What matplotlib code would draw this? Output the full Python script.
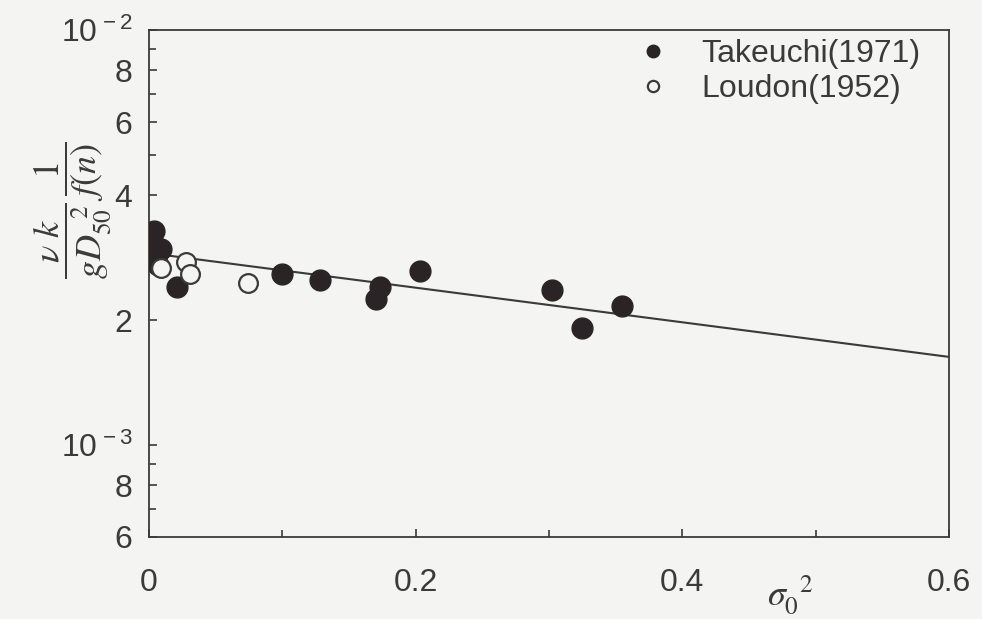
import matplotlib.pyplot as plt
from matplotlib.ticker import FixedLocator, NullFormatter

# data
takeuchi_x = [0.004, 0.002, 0.009, 0.005, 0.007, 0.021, 0.100, 0.128, 0.173, 0.170, 0.203, 0.302, 0.325, 0.355]
takeuchi_y = [3.28e-3, 3.12e-3, 2.97e-3, 2.82e-3, 2.72e-3, 2.40e-3, 2.58e-3, 2.50e-3, 2.40e-3, 2.25e-3, 2.62e-3, 2.36e-3, 1.91e-3, 2.16e-3]

loudon_x = [0.009, 0.028, 0.031, 0.074]
loudon_y = [2.67e-3, 2.76e-3, 2.58e-3, 2.46e-3]

fit_x = [0.0, 0.6]
fit_y = [2.90e-3, 1.63e-3]

y_major = [6e-4, 8e-4, 1e-3, 2e-3, 4e-3, 6e-3, 8e-3, 1e-2]
y_labels = ["6", "8", r"$\mathregular{10^{\,-3}}$", "2", "4", "6", "8", r"$\mathregular{10^{\,-2}}$"]
y_minor = [7e-4, 9e-4, 3e-3, 5e-3, 7e-3, 9e-3]
x_major = [0.0, 0.2, 0.4, 0.6]
x_labels = ["0", "0.2", "0.4", "0.6"]
x_minor = [0.1, 0.3, 0.5]

INK = "#3a3a3a"
BG = "#f4f4f2"

plt.rcParams["font.family"] = ["Liberation Sans", "DejaVu Sans"]
plt.rcParams["mathtext.fontset"] = "stix"

fig = plt.figure(figsize=(9.82, 6.19), dpi=100, facecolor=BG)
ax = fig.add_axes([0.1517, 0.1325, 0.8147, 0.819])
ax.set_facecolor(BG)

ax.plot(fit_x, fit_y, color=INK, lw=1.5, zorder=2)
ax.plot(takeuchi_x, takeuchi_y, "o", ms=15, color="#2b2427", mec="#2b2427", zorder=3,
        label="Takeuchi(1971)")
ax.plot(loudon_x, loudon_y, "o", ms=13.5, mfc=BG, mec=INK, mew=1.6, zorder=3,
        label="Loudon(1952)")

ax.set_yscale("log")
ax.set_xlim(0, 0.6)
ax.set_ylim(6e-4, 1e-2)

ax.yaxis.set_major_locator(FixedLocator(y_major))
ax.set_yticklabels(y_labels)
ax.yaxis.set_minor_locator(FixedLocator(y_minor))
ax.yaxis.set_minor_formatter(NullFormatter())
ax.set_xticks(x_major)
ax.set_xticklabels(x_labels)
ax.set_xticks(x_minor, minor=True)

ax.tick_params(which="both", direction="in", color=INK, width=1.2, labelcolor=INK, labelsize=23)
ax.tick_params(which="major", length=6)
ax.tick_params(which="minor", length=5)
ax.tick_params(axis="x", pad=22)
ax.tick_params(axis="y", pad=12)
for sp in ax.spines.values():
    sp.set_color(INK)
    sp.set_linewidth(1.3)

# y label sits left of the tick labels, placed by hand so it is not clipped
fig.text(0.074, 0.66, r"$\dfrac{\nu\ k}{g D_{50}^{\ \ 2}}\,\dfrac{1}{f(n)}$", fontsize=26,
         color=INK, rotation=90, ha="center", va="center")
fig.text(0.805, 0.022, r"$\sigma_0^{\ \ 2}$", fontsize=26, color=INK, ha="center")

leg = ax.legend(loc="upper right", frameon=False, fontsize=23, markerscale=0.6,
                handletextpad=0.5, labelspacing=0.15, borderaxespad=0.0, borderpad=0.2,
                bbox_to_anchor=(0.972, 0.995))
for t in leg.get_texts():
    t.set_color(INK)

fig.savefig("out.png", dpi=100, facecolor=BG)
